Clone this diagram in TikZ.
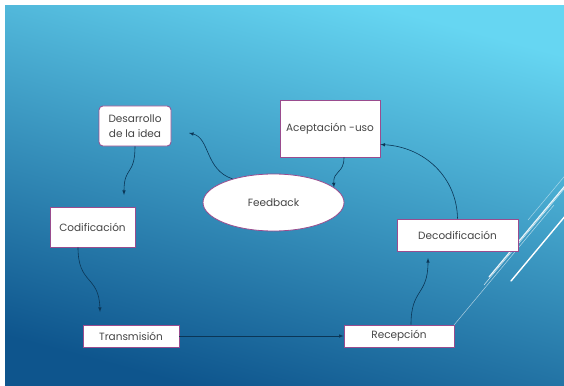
\documentclass[tikz,border=0pt]{standalone}
\usepackage{fontspec}
\setmainfont{Poppins}
\usepackage{xcolor}
\usepackage{tikz}
\usetikzlibrary{arrows}
\usetikzlibrary{shapes.geometric}
\definecolor{bgtop}{HTML}{66D6F2}
\definecolor{bgbottom}{HTML}{0E558D}
\definecolor{boxcolor}{HTML}{9A4C8E}
\definecolor{flowcolor}{HTML}{0B3656}
\definecolor{textcolor}{HTML}{454545}

\begin{document}
\begin{tikzpicture}[x=1pt,y=-1pt,
    box/.style={draw=boxcolor,line width=0.8pt,fill=white,text=textcolor,
        font=\fontsize{10.5}{15}\selectfont,inner sep=0pt,align=center},
    flow/.style={draw=flowcolor,line width=0.6pt,-latex},
    deco/.style={draw=white,line cap=round}]
\useasboundingbox (0,0) rectangle (564,385);
\fill[white] (0,0) rectangle (564,385);
\shade[top color=bgtop,bottom color=bgbottom,shading angle=-15] (5,6) rectangle (564,385);
%% lines on the right
\begin{scope}
\clip (5,6) rectangle (564,385);
\foreach \sx/\sy/\w/\o in {454/325/0.5/0.6, 484/285/0.6/0.7, 489/277/1.2/0.9, 511/281/1.4/1, 528/220/0.5/0.5}
    \draw[deco,line width=\w pt,opacity=\o] (\sx,\sy) -- ++(100,-120);
\end{scope}
\node[box,rounded corners=4pt,minimum width=72pt,minimum height=40pt] (desarrollo) at (135,126) {Desarrollo\\de la idea};
\node[box,minimum width=100pt,minimum height=57pt] (aceptacion) at (330,128.5) {Aceptación -uso};
\node[box,ellipse,minimum width=141pt,minimum height=57pt] (feedback) at (273.5,202.5) {Feedback};
\node[box,minimum width=85pt,minimum height=40pt] (codificacion) at (92.5,227) {Codificación};
\node[box,minimum width=96pt,minimum height=22pt] (transmision) at (131,336) {Transmisión};
\node[box,minimum width=110pt,minimum height=22pt] (recepcion) at (399,336) {Recepción};
\node[box,minimum width=121pt,minimum height=32pt] (decodificacion) at (457.5,235) {Decodificación};
%% free ends of the arrows
\coordinate (endcod) at (124,195);
\coordinate (endtra) at (100,312);
\coordinate (enddec) at (428,258);
\coordinate (enddes) at (189,133);
\draw[flow] (desarrollo.south) .. controls (135,176) and (124,166) .. (endcod);
\draw[flow] ([xshift=-14.5pt]codificacion.south) .. controls (78,285) and (99,275) .. (endtra);
\draw[flow] (transmision.east) -- (recepcion.west);
\draw[flow] ([xshift=12pt]recepcion.north) .. controls (411,288) and (428,296) .. (enddec);
\draw[flow] (decodificacion.north) .. controls (457,178) and (425,147) .. ([yshift=-16pt]aceptacion.east);
\draw[flow] ([xshift=14pt]aceptacion.south) .. controls (344,174) and (333,170) .. (feedback.14);
\draw[flow] (feedback.150) .. controls (205,170) and (210,138) .. (enddes);
\end{tikzpicture}
\end{document}
